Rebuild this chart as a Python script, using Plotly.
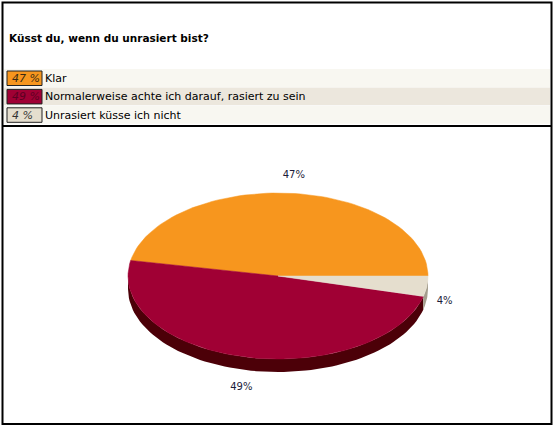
import numpy as np
import plotly.graph_objects as go

# poll data
question = "Küsst du, wenn du unrasiert bist?"
answers = ["Klar", "Normalerweise achte ich darauf, rasiert zu sein", "Unrasiert küsse ich nicht"]
percent = [47, 49, 4]

# styling
top_colors = ["#F7961E", "#A00034", "#E5DECE"]
side_colors = ["#C06A0E", "#4C0008", "#A49D8D"]
swatch_text = ["#3A2A12", "#5C0022", "#333333"]
row_fills = ["#F8F7F1", "#ECE7DD", "#F8F7F1"]
FONT = "DejaVu Sans"

W, H = 554, 426
cx, cy, a, b, depth = 278, 276, 150, 83, 13


def arc(t0, t1, dy=0, n=80):
    t = np.radians(np.linspace(t0, t1, n))
    return cx + a * np.cos(t), cy - b * np.sin(t) + dy


fig = go.Figure()

# slice angles, starting at 3 o'clock and going counter-clockwise
ends = np.cumsum(percent) / sum(percent) * 360
starts = np.concatenate([[0], ends[:-1]])

# side walls (front half only)
for i in range(len(percent)):
    lo, hi = max(starts[i], 180), min(ends[i], 360)
    if hi <= lo:
        continue
    x1, y1 = arc(lo, hi)
    x2, y2 = arc(hi, lo, dy=depth)
    fig.add_trace(go.Scatter(
        x=np.concatenate([x1, x2]), y=np.concatenate([y1, y2]),
        fill="toself", fillcolor=side_colors[i], mode="lines",
        line=dict(width=0, color=side_colors[i]), hoverinfo="skip",
    ))

# top faces
for i in range(len(percent)):
    xs, ys = arc(starts[i], ends[i])
    fig.add_trace(go.Scatter(
        x=np.concatenate([[cx], xs, [cx]]), y=np.concatenate([[cy], ys, [cy]]),
        fill="toself", fillcolor=top_colors[i], mode="lines",
        line=dict(width=0.5, color=top_colors[i]), hoverinfo="skip",
    ))

# percentage labels around the pie
mid = np.radians((starts + ends) / 2)
off = 18
lx = cx + (a + off) * np.cos(mid)
ly = cy - (b + off) * np.sin(mid) + np.where(np.sin(mid) < 0, depth, 0)
fig.add_trace(go.Scatter(
    x=lx, y=ly, mode="text", text=[f"{p}%" for p in percent],
    textfont=dict(family=FONT, size=10, color="#1C1C3A"),
    textposition="middle center", hoverinfo="skip",
))

shapes = [
    dict(type="rect", x0=2.5, y0=2.5, x1=551.5, y1=424, line=dict(color="#000", width=2)),
    dict(type="line", x0=2.5, y0=126, x1=551.5, y1=126, line=dict(color="#000", width=2)),
]
annotations = [
    dict(x=7, y=38, text=f"<b>{question}</b>", showarrow=False, xanchor="left",
         yanchor="middle", font=dict(family=FONT, size=10.5, color="#000")),
]

row_top, row_h = 69, 18.4
for i, (ans, p) in enumerate(zip(answers, percent)):
    y0 = row_top + i * row_h
    shapes.append(dict(type="rect", x0=4, y0=y0, x1=550, y1=y0 + row_h - 0.5,
                       fillcolor=row_fills[i], line=dict(width=0), layer="below"))
    shapes.append(dict(type="rect", x0=7, y0=y0 + 2, x1=42, y1=y0 + 16.5,
                       fillcolor=top_colors[i], line=dict(color="#222", width=1)))
    annotations.append(dict(x=10, y=y0 + 9.3, text=f"<i>{p} %</i>", showarrow=False,
                            xanchor="left", yanchor="middle",
                            font=dict(family=FONT, size=11, color=swatch_text[i])))
    annotations.append(dict(x=43, y=y0 + 9.3, text=ans, showarrow=False,
                            xanchor="left", yanchor="middle",
                            font=dict(family=FONT, size=11, color="#000")))

fig.update_layout(
    width=W, height=H, margin=dict(l=0, r=0, t=0, b=0),
    paper_bgcolor="white", plot_bgcolor="white", showlegend=False,
    xaxis=dict(range=[0, W], visible=False, fixedrange=True),
    yaxis=dict(range=[H, 0], visible=False, fixedrange=True),
    shapes=shapes, annotations=annotations,
)

# drop the browser's default body margin so the figure fills the window
fig.write_html("out.html", config={"displayModeBar": False},
               post_script="document.body.style.margin='0';")
